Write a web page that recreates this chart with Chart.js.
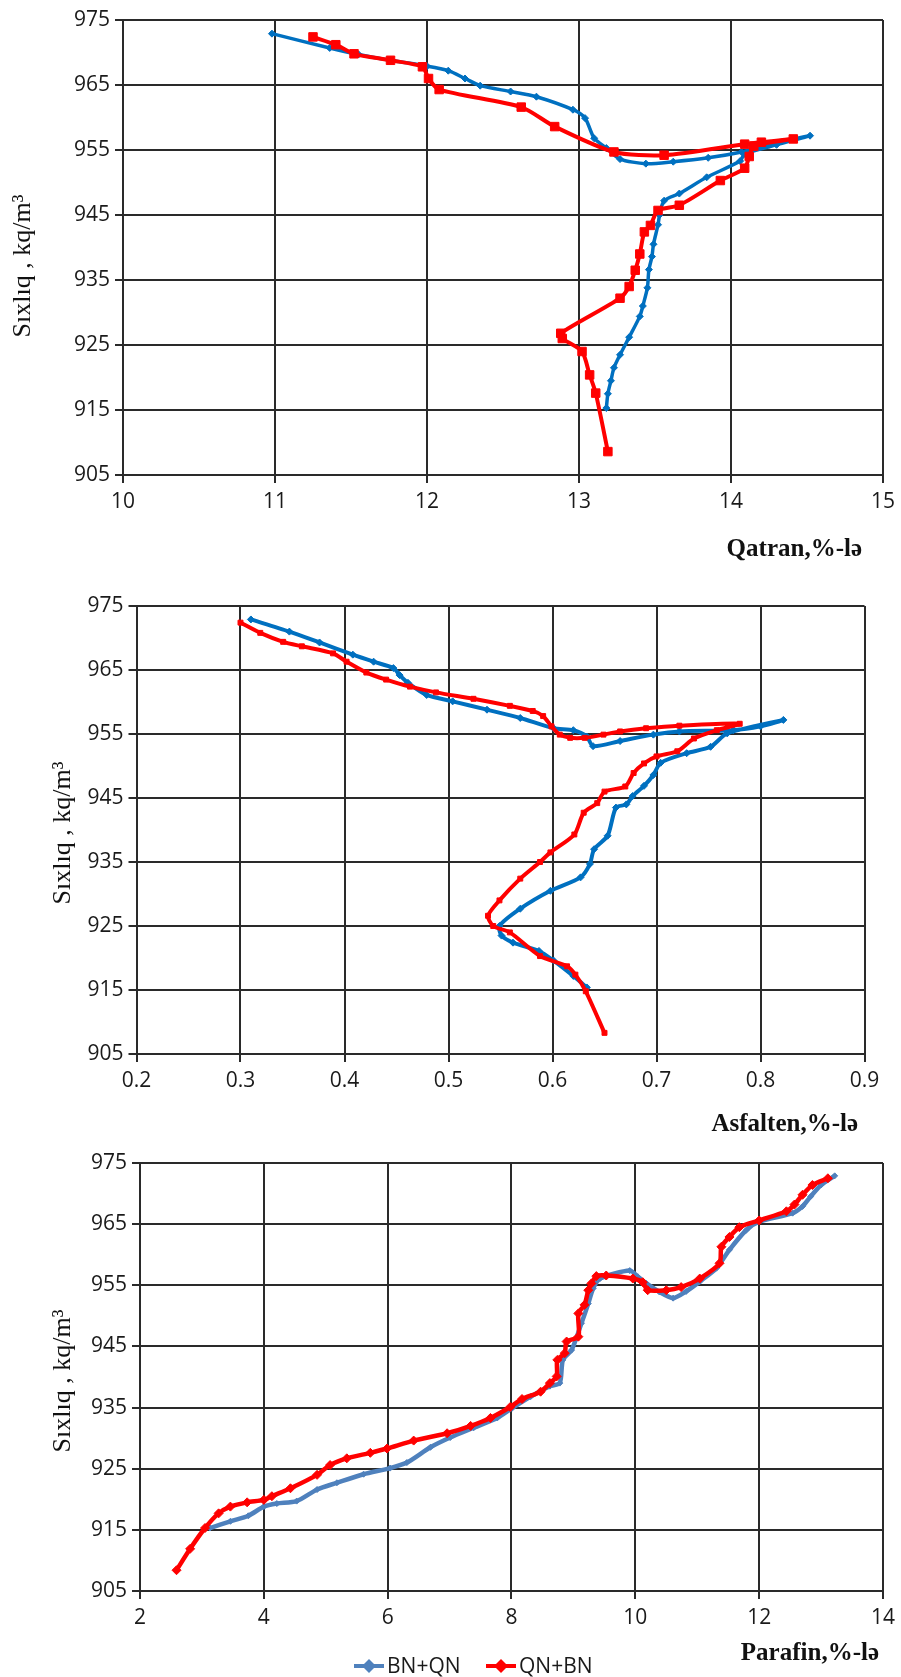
<!DOCTYPE html>
<html><head><meta charset="utf-8">
<script src="https://cdn.jsdelivr.net/npm/chart.js@4.4.1/dist/chart.umd.min.js"></script>
<style>
html,body{margin:0;padding:0;background:#fff;}
#wrap{position:relative;width:901px;height:1677px;overflow:hidden;}
canvas{position:absolute;left:0;}
</style></head><body>
<div id="wrap">
<canvas id="c1" width="901" height="565" style="top:0px"></canvas>
<canvas id="c2" width="901" height="575" style="top:565px"></canvas>
<canvas id="c3" width="901" height="537" style="top:1140px"></canvas>
</div>
<script>
// ---------- data ----------
const seriesNames = ['BN+QN', 'QN+BN'];
const densityTicks = [905, 915, 925, 935, 945, 955, 965, 975];
const yTitle = 'Sıxlıq , kq/m³';
const xTitles = ['Qatran,%-lə', 'Asfalten,%-lə', 'Parafin,%-lə'];

// Chart 1: Qatran
const qatranBN_x = [10.98, 11.36, 11.55, 11.76, 12.0, 12.14, 12.25, 12.35, 12.55, 12.72, 12.96, 13.04, 13.10, 13.18, 13.27, 13.44, 13.62, 13.85, 14.07, 14.25, 14.52, 14.3, 14.09, 14.06, 13.84, 13.66, 13.56, 13.53, 13.52, 13.49, 13.48, 13.46, 13.45, 13.42, 13.40, 13.33, 13.27, 13.23, 13.21, 13.19, 13.18];
const qatranBN_y = [972.9, 970.7, 969.7, 968.8, 967.9, 967.2, 966.0, 964.9, 964.0, 963.2, 961.2, 959.9, 956.8, 955.3, 953.6, 952.9, 953.2, 953.8, 954.7, 955.8, 957.2, 955.8, 954.4, 953.3, 950.8, 948.3, 947.2, 945.0, 943.5, 940.5, 938.6, 936.6, 933.8, 931.0, 929.4, 926.2, 923.5, 921.5, 919.5, 917.5, 915.3];
const qatranQN_x = [11.25, 11.40, 11.52, 11.76, 11.97, 12.01, 12.08, 12.62, 12.84, 13.23, 13.56, 14.09, 14.2, 14.41, 14.15, 14.12, 14.09, 13.93, 13.66, 13.52, 13.47, 13.43, 13.40, 13.37, 13.33, 13.27, 12.88, 12.89, 13.02, 13.07, 13.11, 13.19];
const qatranQN_y = [972.4, 971.2, 969.8, 968.8, 967.8, 966.0, 964.3, 961.6, 958.6, 954.7, 954.2, 955.9, 956.2, 956.7, 955.6, 954.0, 952.2, 950.3, 946.5, 945.7, 943.4, 942.4, 939.0, 936.5, 934.0, 932.2, 926.8, 926.0, 924.0, 920.4, 917.6, 908.6];
const qatranTicks = [10, 11, 12, 13, 14, 15];

// Chart 2: Asfalten
const asfBN_x = [0.310, 0.347, 0.376, 0.408, 0.428, 0.447, 0.453, 0.461, 0.479, 0.504, 0.537, 0.569, 0.601, 0.620, 0.633, 0.639, 0.665, 0.697, 0.722, 0.774, 0.800, 0.822, 0.768, 0.752, 0.729, 0.704, 0.697, 0.688, 0.677, 0.671, 0.661, 0.653, 0.640, 0.636, 0.627, 0.598, 0.569, 0.549, 0.551, 0.562, 0.587, 0.601, 0.620, 0.633];
const asfBN_y = [972.9, 971.0, 969.3, 967.4, 966.3, 965.3, 964.2, 963.0, 961.1, 960.1, 958.8, 957.5, 955.9, 955.6, 954.6, 953.1, 953.9, 954.9, 955.4, 955.6, 956.2, 957.2, 955.1, 953.0, 952.0, 950.5, 948.6, 946.9, 945.3, 944.0, 943.5, 939.1, 937.0, 934.7, 932.6, 930.5, 927.7, 925.0, 923.5, 922.4, 921.1, 919.6, 917.2, 915.4];
const asfQN_x = [0.300, 0.319, 0.341, 0.359, 0.389, 0.402, 0.421, 0.440, 0.463, 0.488, 0.524, 0.559, 0.581, 0.591, 0.599, 0.607, 0.617, 0.631, 0.649, 0.665, 0.690, 0.722, 0.780, 0.758, 0.736, 0.720, 0.700, 0.688, 0.678, 0.670, 0.650, 0.643, 0.630, 0.621, 0.598, 0.588, 0.569, 0.549, 0.538, 0.543, 0.559, 0.588, 0.614, 0.622, 0.632, 0.650];
const asfQN_y = [972.4, 970.8, 969.4, 968.7, 967.6, 966.3, 964.6, 963.5, 962.4, 961.5, 960.5, 959.4, 958.6, 957.8, 956.2, 954.9, 954.4, 954.4, 954.9, 955.4, 955.9, 956.3, 956.6, 955.6, 954.3, 952.3, 951.5, 950.4, 948.9, 946.8, 946.0, 944.2, 942.7, 939.3, 936.5, 935.0, 932.4, 929.0, 926.6, 925.0, 924.0, 920.3, 918.7, 917.4, 914.8, 908.3];
const asfTicks = [0.2, 0.3, 0.4, 0.5, 0.6, 0.7, 0.8, 0.9];

// Chart 3: Parafin
const parBN_x = [3.13, 3.46, 3.75, 4.0, 4.21, 4.53, 4.86, 5.18, 5.61, 6.04, 6.31, 6.69, 7.01, 7.39, 7.77, 8.01, 8.31, 8.62, 8.78, 8.83, 8.97, 9.13, 9.24, 9.32, 9.43, 9.91, 10.04, 10.18, 10.39, 10.61, 10.82, 11.04, 11.31, 11.52, 11.79, 12.0, 12.54, 12.70, 12.83, 13.0, 13.22];
const parBN_y = [915.3, 916.4, 917.3, 918.8, 919.3, 919.7, 921.6, 922.7, 924.1, 925.1, 926.0, 928.5, 930.1, 931.7, 933.3, 934.9, 936.8, 938.5, 939.0, 942.8, 944.4, 948.8, 952.0, 954.5, 956.1, 957.4, 956.4, 955.3, 953.9, 952.9, 954.0, 955.6, 957.8, 960.8, 964.0, 965.4, 966.8, 967.9, 969.5, 971.4, 972.9];
const parQN_x = [2.59, 2.81, 3.05, 3.27, 3.46, 3.73, 4.0, 4.13, 4.43, 4.86, 5.07, 5.34, 5.72, 5.99, 6.42, 6.96, 7.34, 7.66, 7.98, 8.17, 8.47, 8.62, 8.73, 8.74, 8.86, 8.89, 9.08, 9.08, 9.18, 9.24, 9.29, 9.37, 9.53, 9.96, 10.12, 10.2, 10.5, 10.74, 11.04, 11.36, 11.39, 11.52, 11.68, 12.0, 12.44, 12.57, 12.70, 12.86, 13.11];
const parQN_y = [908.4, 911.9, 915.3, 917.7, 918.8, 919.5, 919.9, 920.5, 921.8, 924.0, 925.6, 926.7, 927.6, 928.3, 929.6, 930.8, 932.0, 933.3, 935.1, 936.4, 937.6, 939.0, 940.1, 942.8, 943.9, 945.8, 946.6, 950.4, 951.8, 954.2, 955.3, 956.5, 956.6, 956.1, 955.5, 954.2, 954.2, 954.7, 956.1, 958.6, 961.3, 962.9, 964.5, 965.6, 967.1, 968.2, 969.8, 971.4, 972.5];
const parTicks = [2, 4, 6, 8, 10, 12, 14];

// ---------- styling ----------
const GRID = '#2a2a2a';
const TICK_FONT = {family: "'Open Sans', 'Liberation Sans', sans-serif", size: 21};
const TICK_COLOR = '#1a1a1a';

const textPlugin = {
  id: 'textPlugin',
  afterDraw(chart, args, opts) {
    const ctx = chart.ctx;
    (opts.items || []).forEach(it => {
      ctx.save();
      ctx.font = it.font;
      ctx.fillStyle = '#111';
      ctx.textAlign = it.align;
      ctx.textBaseline = 'middle';
      ctx.translate(it.x, it.y);
      if (it.rotate) ctx.rotate(it.rotate);
      ctx.fillText(it.text, 0, 0);
      ctx.restore();
    });
    (opts.legend || []).forEach(l => {
      ctx.save();
      ctx.strokeStyle = l.color;
      ctx.fillStyle = l.color;
      ctx.lineWidth = 4;
      ctx.beginPath();
      ctx.moveTo(l.x, l.y);
      ctx.lineTo(l.x + 30, l.y);
      ctx.stroke();
      const cx = l.x + 15, r = 7;
      ctx.beginPath();
      ctx.moveTo(cx - r, l.y); ctx.lineTo(cx, l.y - r); ctx.lineTo(cx + r, l.y); ctx.lineTo(cx, l.y + r);
      ctx.closePath(); ctx.fill();
      ctx.fillStyle = '#1a1a1a';
      ctx.font = "21px 'Open Sans', 'Liberation Sans', sans-serif";
      ctx.textAlign = 'left';
      ctx.textBaseline = 'middle';
      ctx.fillText(l.text, l.x + 33, l.y + 1);
      ctx.restore();
    });
  }
};

function toPoints(xs, ys) { return xs.map((x, i) => ({x: x, y: ys[i]})); }

function build(id, c) {
  const ds = c.series.map(s => ({
    label: s.label,
    data: toPoints(s.xs, s.ys),
    showLine: true,
    borderColor: s.color,
    backgroundColor: s.color,
    pointBackgroundColor: s.color,
    pointBorderColor: s.color,
    borderWidth: s.lw,
    pointStyle: s.ps,
    pointRadius: s.pr,
    pointBorderWidth: 1,
    tension: 0.25,
    fill: false,
    order: s.order
  }));
  new Chart(document.getElementById(id), {
    type: 'scatter',
    data: {datasets: ds},
    options: {
      responsive: false,
      animation: false,
      devicePixelRatio: 1,
      layout: {padding: {left: 0, top: c.top, right: c.right, bottom: 0}},
      plugins: {
        legend: {display: false},
        tooltip: {enabled: false},
        textPlugin: {items: c.texts, legend: c.legend || []}
      },
      scales: {
        x: {
          type: 'linear', position: 'bottom', min: c.xTicks[0], max: c.xTicks[c.xTicks.length - 1],
          afterBuildTicks: s => { s.ticks = c.xTicks.map(v => ({value: v})); },
          ticks: {font: TICK_FONT, color: TICK_COLOR, padding: 6, maxRotation: 0, autoSkip: false,
                  callback: v => c.fmt(v)},
          grid: {color: GRID, lineWidth: 2, tickLength: 8, tickColor: GRID},
          border: {color: GRID, width: 2},
          afterFit: s => { s.height = c.xh; }
        },
        y: {
          type: 'linear', position: 'left', min: 905, max: 975,
          afterBuildTicks: s => { s.ticks = densityTicks.map(v => ({value: v})); },
          ticks: {font: TICK_FONT, color: TICK_COLOR, padding: 5, autoSkip: false},
          grid: {color: GRID, lineWidth: 2, tickLength: 8, tickColor: GRID},
          border: {color: GRID, width: 2},
          afterFit: s => { s.width = c.yw; }
        }
      }
    },
    plugins: [textPlugin]
  });
}

const TITLE_FONT = "bold 25px 'Liberation Serif', 'Times New Roman', serif";
const YT_FONT = "26px 'Liberation Serif', 'Times New Roman', serif";

build('c1', {
  top: 20, right: 14, xh: 90, yw: 123, xTicks: qatranTicks, fmt: v => String(v),
  series: [
    {label: seriesNames[1], xs: qatranQN_x, ys: qatranQN_y, color: '#FF0000', lw: 4, ps: 'rect', pr: 6, order: 0},
    {label: seriesNames[0], xs: qatranBN_x, ys: qatranBN_y, color: '#0070C0', lw: 3.5, ps: 'rectRot', pr: 3.5, order: 1}
  ],
  texts: [
    {text: yTitle, font: YT_FONT, x: 23, y: 266, rotate: -Math.PI / 2, align: 'center'},
    {text: xTitles[0], font: TITLE_FONT, x: 862, y: 550, align: 'right'}
  ]
});

build('c2', {
  top: 41, right: 36.5, xh: 86, yw: 136.5, xTicks: asfTicks, fmt: v => v.toFixed(1),
  series: [
    {label: seriesNames[1], xs: asfQN_x, ys: asfQN_y, color: '#FF0000', lw: 4, ps: 'rect', pr: 3.5, order: 0},
    {label: seriesNames[0], xs: asfBN_x, ys: asfBN_y, color: '#0070C0', lw: 4, ps: 'rectRot', pr: 3.5, order: 1}
  ],
  texts: [
    {text: yTitle, font: YT_FONT, x: 63, y: 268, rotate: -Math.PI / 2, align: 'center'},
    {text: xTitles[1], font: TITLE_FONT, x: 858, y: 560, align: 'right'}
  ]
});

build('c3', {
  top: 23, right: 18, xh: 86, yw: 140, xTicks: parTicks, fmt: v => String(v),
  series: [
    {label: seriesNames[1], xs: parQN_x, ys: parQN_y, color: '#FF0000', lw: 4.5, ps: 'rectRot', pr: 4.5, order: 0},
    {label: seriesNames[0], xs: parBN_x, ys: parBN_y, color: '#4F81BD', lw: 4.5, ps: 'rectRot', pr: 3, order: 1}
  ],
  texts: [
    {text: yTitle, font: YT_FONT, x: 63, y: 241, rotate: -Math.PI / 2, align: 'center'},
    {text: xTitles[2], font: TITLE_FONT, x: 879, y: 514, align: 'right'}
  ],
  legend: [
    {text: seriesNames[0], color: '#4F81BD', x: 354, y: 526},
    {text: seriesNames[1], color: '#FF0000', x: 486, y: 526}
  ]
});
</script>
</body></html>
